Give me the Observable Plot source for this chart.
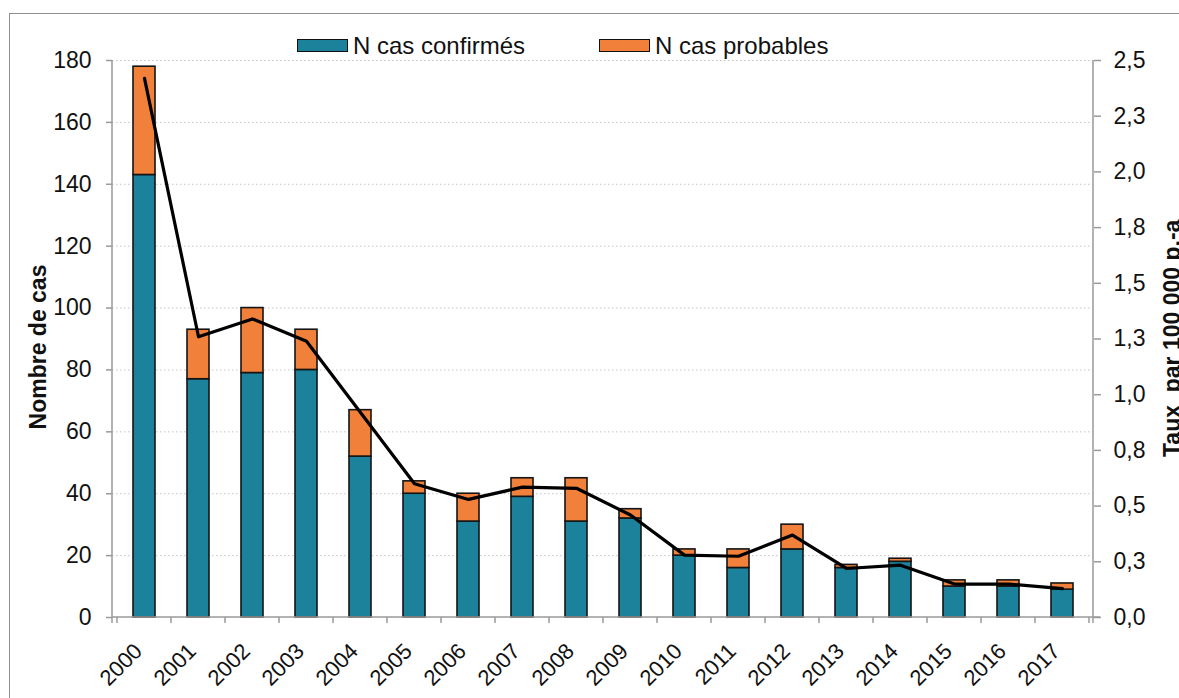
<!DOCTYPE html>
<html><head><meta charset="utf-8">
<script src="https://cdn.jsdelivr.net/npm/d3@7"></script>
<script src="https://cdn.jsdelivr.net/npm/@observablehq/plot@0.6"></script>
<style>
html,body{margin:0;padding:0;background:#fff;overflow:hidden;}
#wrap{position:relative;width:1179px;height:698px;font-family:"Liberation Sans",Arial,Helvetica,sans-serif;overflow:hidden;}
#border{position:absolute;left:9px;top:13px;width:1220px;height:740px;border:1.5px solid #8e8e8e;box-sizing:border-box;}
#chart{position:absolute;left:0;top:0;}
.item{position:absolute;top:32px;display:flex;align-items:center;font-size:24px;color:#111;line-height:27px;white-space:nowrap;}
.sw{width:49px;height:11px;border:1.6px solid #111;margin-right:5px;}
</style></head>
<body><div id="wrap"><div id="border"></div><div id="chart"></div><div id="legend"></div></div>
<script>
const years = ["2000","2001","2002","2003","2004","2005","2006","2007","2008","2009","2010","2011","2012","2013","2014","2015","2016","2017"];
const confirmed = [143,77,79,80,52,40,31,39,31,32,20,16,22,16,18,10,10,9];
const probable  = [35,16,21,13,15,4,9,6,14,3,2,6,8,1,1,2,2,2];
const rate = [2.42,1.26,1.34,1.24,0.92,0.60,0.53,0.585,0.58,0.46,0.28,0.275,0.37,0.22,0.235,0.15,0.15,0.13];
const leftTicks = [0,20,40,60,80,100,120,140,160,180];
const rightTickValues = [0,0.25,0.5,0.75,1,1.25,1.5,1.75,2,2.25,2.5];
const rightTickLabels = ["0,0","0,3","0,5","0,8","1,0","1,3","1,5","1,8","2,0","2,3","2,5"];
const seriesNames = ["N cas confirmés","N cas probables"];
const seriesColors = ["#1c819b","#f0803a"];
const leftTitle = "Nombre de cas";
const rightTitle = "Taux\u00a0 par 100 000 p.-a";

const leftMax = 180, rightMax = 2.5, k = leftMax / rightMax;

const rows = years.flatMap((yr, i) => [
  {year: yr, type: seriesNames[0], value: confirmed[i]},
  {year: yr, type: seriesNames[1], value: probable[i]}
]);
const lineRows = years.map((yr, i) => ({year: yr, r: rate[i] * k}));
const rightMap = new Map(rightTickValues.map((v, i) => [v * k, rightTickLabels[i]]));

function axisLines(index, scales, values, dims) {
  const x = scales.x;
  const ml = dims.marginLeft, mr = dims.marginRight, mt = dims.marginTop, mb = dims.marginBottom;
  const w = dims.width, h = dims.height, y0 = h - mb;
  const g = d3.create("svg:g").attr("stroke", "#9a9a9a").attr("stroke-width", 1.5).attr("fill", "none");
  g.append("line").attr("x1", ml).attr("x2", ml).attr("y1", mt).attr("y2", y0 + 6);
  g.append("line").attr("x1", w - mr).attr("x2", w - mr).attr("y1", mt).attr("y2", y0 + 6);
  g.append("line").attr("x1", ml).attr("x2", w - mr + 7).attr("y1", y0).attr("y2", y0);
  const gap = x.step() - x.bandwidth();
  const bounds = years.map(yr => x(yr) - gap / 2);
  bounds.push(x(years[years.length - 1]) + x.bandwidth() + gap / 2);
  for (const b of bounds) g.append("line").attr("x1", b).attr("x2", b).attr("y1", y0).attr("y2", y0 + 6);
  return g.node();
}

const chart = Plot.plot({
  width: 1179, height: 698,
  marginLeft: 112, marginRight: 86, marginTop: 60, marginBottom: 81,
  x: {type: "band", domain: years, paddingInner: 0.6, paddingOuter: 0.3, align: 0.5},
  y: {domain: [0, leftMax]},
  color: {domain: seriesNames, range: seriesColors},
  style: {fontFamily: '"Liberation Sans", Arial, Helvetica, sans-serif', fontSize: "23px", color: "#111", background: "transparent", overflow: "visible"},
  marks: [
    Plot.gridY(leftTicks.filter(d => d > 0), {stroke: "#c4c4c4", strokeOpacity: 1, strokeDasharray: "1.5,2.5", strokeWidth: 1}),
    Plot.barY(rows, {x: "year", y: "value", fill: "type", stroke: "#151515", strokeWidth: 1.6}),
    axisLines,
    Plot.lineY(lineRows, {x: "year", y: "r", stroke: "#000", strokeWidth: 3.2}),
    Plot.axisY(leftTicks, {anchor: "left", tickSize: 6, tickPadding: 15, stroke: "#9a9a9a", strokeWidth: 1.5, fill: "#111", label: null}),
    Plot.axisY(rightTickValues.map(v => v * k), {anchor: "right", tickSize: 7, tickPadding: 13, stroke: "#9a9a9a", strokeWidth: 1.5, fill: "#111", label: null, tickFormat: d => rightMap.get(d)}),
    Plot.axisX({tickSize: 0, tickPadding: 24, tickRotate: -45, dx: -6, dy: 6, fill: "#111", fontSize: 22, label: null}),
    Plot.text([leftTitle], {text: d => d, frameAnchor: "left", textAnchor: "middle", rotate: -90, dx: -74, dy: 8, fontWeight: "bold", fontSize: 23, fill: "#111"}),
    Plot.text([rightTitle], {text: d => d, frameAnchor: "right", rotate: -90, textAnchor: "start", dx: 79, dy: 118, fontWeight: "bold", fontSize: 23, fill: "#111"})
  ]
});
document.getElementById("chart").appendChild(chart);

const legend = document.getElementById("legend");
const legendLeft = [297, 599];
seriesNames.forEach((name, i) => {
  const item = document.createElement("div");
  item.className = "item";
  item.style.left = legendLeft[i] + "px";
  const sw = document.createElement("div");
  sw.className = "sw";
  sw.style.background = seriesColors[i];
  const t = document.createElement("span");
  t.textContent = name;
  item.appendChild(sw); item.appendChild(t);
  legend.appendChild(item);
});
</script>
</body></html>
